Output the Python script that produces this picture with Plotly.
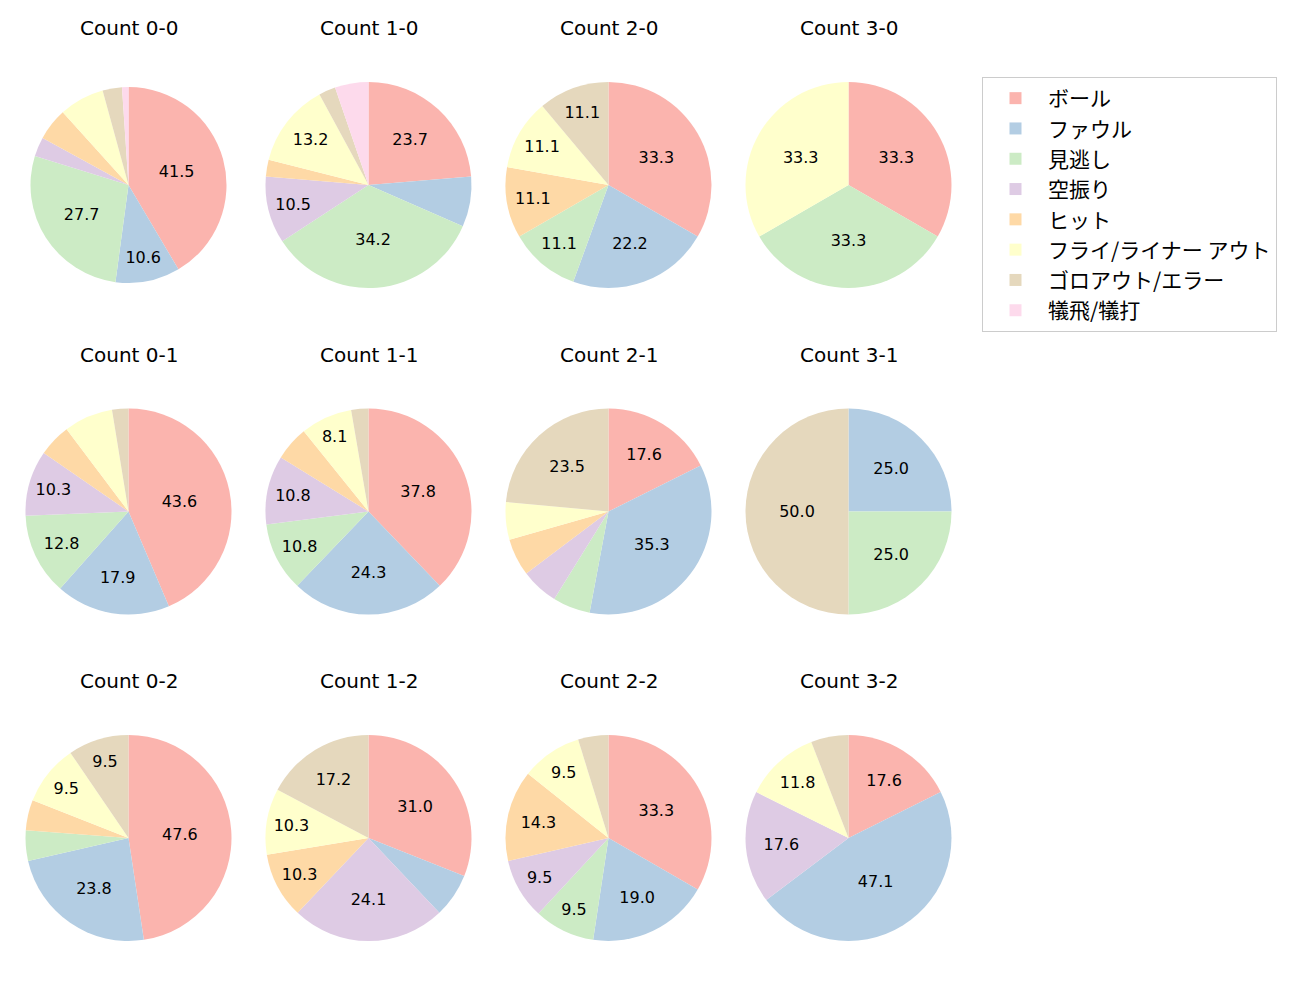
import plotly.graph_objects as go

labels = ['ボール', 'ファウル', '見逃し', '空振り', 'ヒット',
          'フライ/ライナー アウト', 'ゴロアウト/エラー', '犠飛/犠打']
colors = ['#fbb4ae', '#b3cde3', '#ccebc5', '#decbe4',
          '#fed9a6', '#ffffcc', '#e5d8bd', '#fddaec']

# pitch result counts per ball-strike count (same order as labels)
count_0_0 = [39, 10, 26, 3, 5, 7, 3, 1]
count_1_0 = [9, 3, 13, 4, 1, 5, 1, 2]
count_2_0 = [3, 2, 1, 0, 1, 1, 1, 0]
count_3_0 = [1, 0, 1, 0, 0, 1, 0, 0]
count_0_1 = [17, 7, 5, 4, 2, 3, 1, 0]
count_1_1 = [14, 9, 4, 4, 2, 3, 1, 0]
count_2_1 = [3, 6, 1, 1, 1, 1, 4, 0]
count_3_1 = [0, 1, 1, 0, 0, 0, 2, 0]
count_0_2 = [10, 5, 1, 0, 1, 2, 2, 0]
count_1_2 = [9, 2, 0, 7, 3, 3, 5, 0]
count_2_2 = [7, 4, 2, 2, 3, 2, 1, 0]
count_3_2 = [3, 8, 0, 3, 0, 2, 1, 0]

panels = [
    ('Count 0-0', count_0_0), ('Count 1-0', count_1_0), ('Count 2-0', count_2_0), ('Count 3-0', count_3_0),
    ('Count 0-1', count_0_1), ('Count 1-1', count_1_1), ('Count 2-1', count_2_1), ('Count 3-1', count_3_1),
    ('Count 0-2', count_0_2), ('Count 1-2', count_1_2), ('Count 2-2', count_2_2), ('Count 3-2', count_3_2),
]

W, H = 1300, 1000
OFF = 8  # page body margin shifts the plot
LATIN = 'DejaVu Sans'
JP = 'Noto Sans CJK JP'

fig = go.Figure()
annots = []
for i, (title, vals) in enumerate(panels):
    row, col = divmod(i, 4)
    cx = 128.5 + 240 * col - OFF
    cy = 185 + 326.5 * row - OFF
    r = 98 if i == 0 else 103
    total = sum(vals)
    txt = [f'{100 * v / total:.1f}' if 100 * v / total >= 8 else '' for v in vals]
    fig.add_trace(go.Pie(
        labels=labels, values=vals, text=txt, textinfo='text',
        textposition='inside', insidetextorientation='horizontal',
        sort=False, direction='clockwise', rotation=0,
        marker=dict(colors=colors, line=dict(width=0)),
        textfont=dict(size=16, color='black', family=LATIN),
        domain=dict(x=[(cx - r) / W, (cx + r) / W],
                    y=[1 - (cy + r) / H, 1 - (cy - r) / H]),
        showlegend=(i == 0), hoverinfo='label+percent',
    ))
    annots.append(dict(text=title, x=cx / W, y=1 - (cy - 157) / H,
                       xref='paper', yref='paper', showarrow=False,
                       xanchor='center', yanchor='middle',
                       font=dict(size=20, color='black', family=LATIN)))

fig.update_layout(
    width=W, height=H,
    margin=dict(l=0, r=0, t=0, b=0),
    paper_bgcolor='white', plot_bgcolor='white',
    annotations=annots,
    uniformtext=dict(minsize=16, mode='show'),
    legend=dict(x=(982 - OFF) / W, y=1 - (77 - OFF) / H, xanchor='left', yanchor='top',
                bordercolor='#cccccc', borderwidth=1,
                font=dict(size=21, color='black', family=JP),
                itemwidth=55, traceorder='normal'),
    font=dict(family=JP),
)

fig.write_html('out.html')
